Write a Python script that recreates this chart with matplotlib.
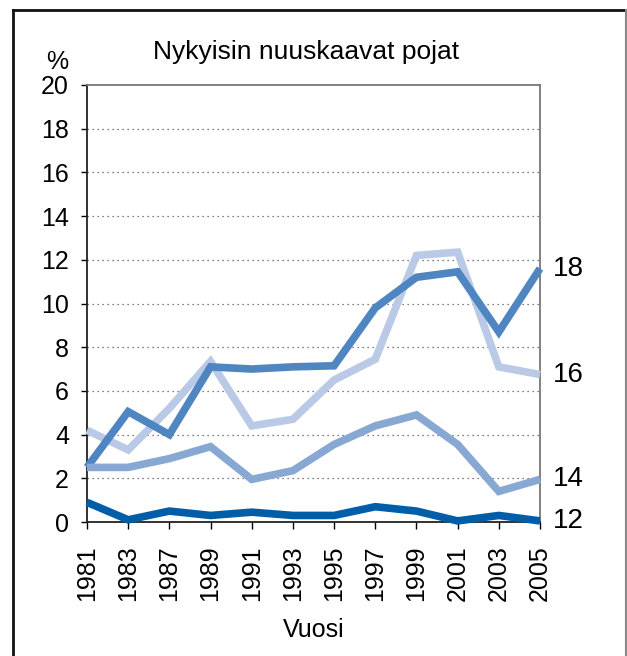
import matplotlib
matplotlib.use("Agg")
import matplotlib.pyplot as plt
from matplotlib.lines import Line2D

plt.rcParams['font.family'] = ['Liberation Sans', 'DejaVu Sans']

years = ["1981", "1983", "1987", "1989", "1991", "1993", "1995",
         "1997", "1999", "2001", "2003", "2005"]

# nykyisin nuuskaavat pojat, % ikäryhmittäin
age12 = [0.9, 0.1, 0.5, 0.3, 0.45, 0.3, 0.3, 0.7, 0.5, 0.05, 0.3, 0.05]
age14 = [2.5, 2.5, 2.9, 3.45, 1.95, 2.35, 3.55, 4.4, 4.9, 3.55, 1.4, 1.95]
age16 = [4.2, 3.3, 5.2, 7.35, 4.4, 4.7, 6.5, 7.45, 12.2, 12.35, 7.1, 6.75]
age18 = [2.5, 5.05, 4.0, 7.1, 7.0, 7.1, 7.15, 9.8, 11.2, 11.45, 8.7, 11.6]

series = [("16", age16, "#bacae6"),
          ("18", age18, "#4f86c1"),
          ("14", age14, "#88a8d4"),
          ("12", age12, "#005ea9")]

fig = plt.figure(figsize=(6.27, 6.56), dpi=100)
ax = fig.add_axes([87 / 627, 1 - 522 / 656, 453 / 627, 437 / 656])

x = list(range(len(years)))
for label, vals, col in series:
    ax.plot(x, vals, color=col, lw=5.5, solid_joinstyle='miter',
            solid_capstyle='butt', clip_on=False, zorder=3)
    ax.annotate(label, (x[-1], vals[-1]), xytext=(9, 0),
                textcoords='offset points', va='center', ha='left',
                fontsize=20, annotation_clip=False)

ax.set_xlim(0, len(years) - 1)
ax.set_ylim(0, 20)
ax.set_yticks(range(0, 21, 2))
ax.set_xticks(x)
ax.set_xticklabels(years, rotation=90)
ax.tick_params(axis='y', labelsize=18, length=4, width=1, pad=9)
ax.tick_params(axis='x', labelsize=18, length=5, width=1, pad=12)

for yv in range(2, 20, 2):
    ax.axhline(yv, color='#555555', lw=0.9, ls=(0, (1, 3)), zorder=1)

ax.spines['left'].set_color('#222222')
ax.spines['bottom'].set_color('#222222')
ax.spines['top'].set_color('#777777')
ax.spines['right'].set_color('#777777')
for s in ax.spines.values():
    s.set_linewidth(1.3)

ax.set_xlabel("Vuosi", fontsize=18, labelpad=12)

fig.text(306 / 627, 1 - 52 / 656, "Nykyisin nuuskaavat pojat",
         ha='center', va='center', fontsize=19)
fig.text(57 / 627, 1 - 62 / 656, "%", ha='center', va='center', fontsize=18)

# kehys kuvan ympärillä
fig.add_artist(Line2D([13 / 627, 13 / 627], [-0.01, 1 - 10 / 656],
                      transform=fig.transFigure, color='#111111', lw=2))
fig.add_artist(Line2D([13 / 627, 626 / 627], [1 - 10 / 656, 1 - 10 / 656],
                      transform=fig.transFigure, color='#111111', lw=2))
fig.add_artist(Line2D([626 / 627, 626 / 627], [-0.01, 1 - 10 / 656],
                      transform=fig.transFigure, color='#888888', lw=1.5))

fig.savefig("out.png", dpi=100)
